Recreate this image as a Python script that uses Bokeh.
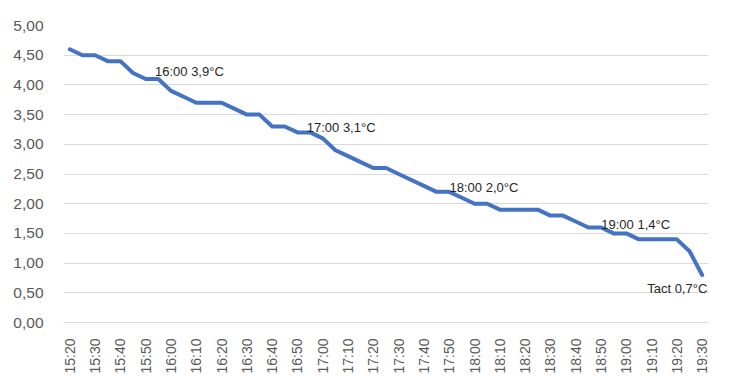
import math
from bokeh.plotting import figure
from bokeh.models import FixedTicker, CustomJSTickFormatter, ColumnDataSource, LabelSet
from bokeh.core.properties import value
from bokeh.embed import file_html
from bokeh.resources import INLINE

# ---- data ----
times = ["15:20", "15:25", "15:30", "15:35", "15:40", "15:45", "15:50", "15:55",
         "16:00", "16:05", "16:10", "16:15", "16:20", "16:25", "16:30", "16:35",
         "16:40", "16:45", "16:50", "16:55", "17:00", "17:05", "17:10", "17:15",
         "17:20", "17:25", "17:30", "17:35", "17:40", "17:45", "17:50", "17:55",
         "18:00", "18:05", "18:10", "18:15", "18:20", "18:25", "18:30", "18:35",
         "18:40", "18:45", "18:50", "18:55", "19:00", "19:05", "19:10", "19:15",
         "19:20", "19:25", "19:30"]
temps = [4.6, 4.5, 4.5, 4.4, 4.4, 4.2, 4.1, 4.1, 3.9, 3.8, 3.7, 3.7, 3.7, 3.6,
         3.5, 3.5, 3.3, 3.3, 3.2, 3.2, 3.1, 2.9, 2.8, 2.7, 2.6, 2.6, 2.5, 2.4,
         2.3, 2.2, 2.2, 2.1, 2.0, 2.0, 1.9, 1.9, 1.9, 1.9, 1.8, 1.8, 1.7, 1.6,
         1.6, 1.5, 1.5, 1.4, 1.4, 1.4, 1.4, 1.2, 0.8]
label_times = ["16:00", "17:00", "18:00", "19:00", "19:30"]
label_texts = ["16:00 3,9°C", "17:00 3,1°C", "18:00 2,0°C", "19:00 1,4°C", "Tact 0,7°C"]
y_ticks = [0.0, 0.5, 1.0, 1.5, 2.0, 2.5, 3.0, 3.5, 4.0, 4.5, 5.0]

# label placement (pixels, relative to the labelled point)
label_dx = [-16, -16, -25, -25, -55]
label_dy = [19, 11, 16, 9, -14]

idx = list(range(len(times)))
FONT = "Liberation Sans"

p = figure(frame_width=645, frame_height=297, output_backend="svg",
           toolbar_location=None, x_range=(-0.5, len(times) - 0.5), y_range=(0, 5),
           min_border_left=63, min_border_right=8, min_border_top=25,
           min_border_bottom=51)
p.outline_line_color = None
p.background_fill_color = "white"
p.border_fill_color = "white"

p.line(idx, temps, line_color="#4472C4", line_width=4, line_join="round",
       line_cap="round")

li = [times.index(t) for t in label_times]
src = ColumnDataSource(dict(x=li, y=[temps[i] for i in li], text=label_texts,
                            dx=label_dx, dy=label_dy))
labels = LabelSet(x="x", y="y", text="text", x_offset="dx", y_offset="dy",
                  source=src, text_font=value(FONT), text_font_size=value("13px"),
                  text_color=value("#262626"), text_align="left",
                  text_baseline="middle")
p.add_layout(labels)

# axes
p.xgrid.grid_line_color = None
p.ygrid.grid_line_color = "#d9d9d9"
p.ygrid.grid_line_width = 1

p.xaxis.ticker = FixedTicker(ticks=idx[::2])
p.xaxis.major_label_overrides = {i: times[i] for i in idx[::2]}
p.xaxis.major_label_orientation = math.pi / 2
p.xaxis.major_tick_line_color = None
p.xaxis.minor_tick_line_color = None
p.xaxis.axis_line_color = "#d9d9d9"
p.xaxis.major_label_text_font = FONT
p.xaxis.major_label_text_font_size = "14px"
p.xaxis.major_label_text_color = "#595959"
p.xaxis.major_label_standoff = 10

p.yaxis.ticker = FixedTicker(ticks=y_ticks)
p.yaxis.formatter = CustomJSTickFormatter(code="return tick.toFixed(2).replace('.', ',');")
p.yaxis.axis_line_color = None
p.yaxis.major_tick_line_color = None
p.yaxis.minor_tick_line_color = None
p.yaxis.major_label_text_font = FONT
p.yaxis.major_label_text_font_size = "15.5px"
p.yaxis.major_label_text_color = "#595959"
p.yaxis.major_label_standoff = 14

open("out.html", "w").write(file_html(p, INLINE))
